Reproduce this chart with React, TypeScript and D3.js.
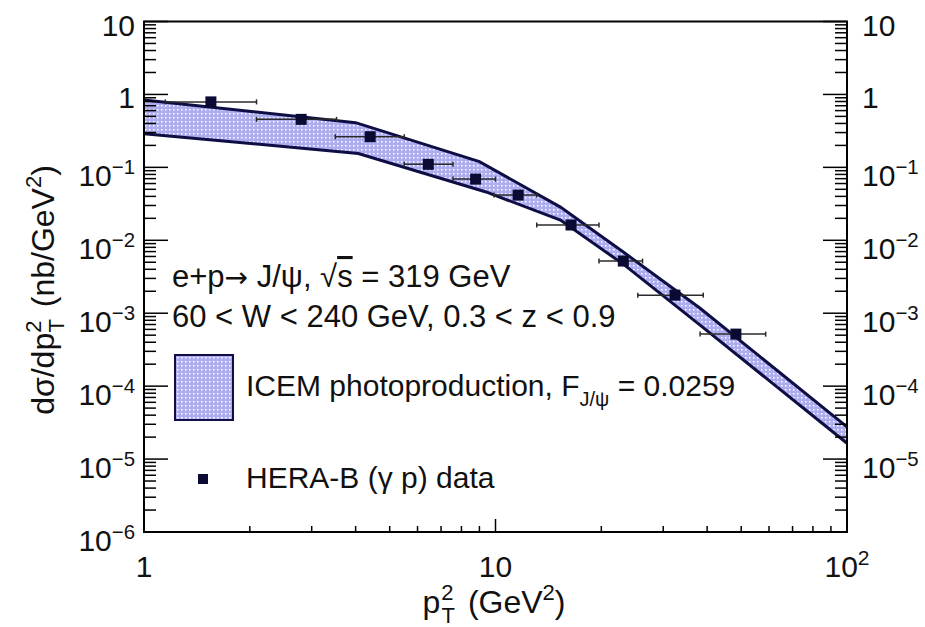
import React, { useEffect, useRef } from 'react'
import * as d3 from 'd3'

// HERA-B points: p_T^2 bin centre, bin edges, dsigma/dp_T^2 (nb/GeV^2)
const ptMid = [1.55, 2.8, 4.4, 6.44, 8.78, 11.6, 16.4, 23.1, 32.4, 48.3]
const ptLow = [1.15, 2.09, 3.5, 5.5, 7.57, 9.9, 13.1, 19.7, 25.4, 38.2]
const ptHigh = [2.09, 3.53, 5.5, 7.57, 10.0, 13.1, 19.7, 26.2, 39.0, 58.7]
const sigma = [0.79, 0.455, 0.263, 0.11, 0.069, 0.0417, 0.0162, 0.00519, 0.00177, 0.000517]

// ICEM band, upper and lower edge
const upX = [1, 4.0, 9.0, 15.3, 23.1, 38.2, 100]
const upY = [0.84, 0.41, 0.12, 0.0285, 0.0069, 0.00117, 2.77e-5]
const loX = [1, 4.07, 9.4, 15.3, 23.1, 38.2, 100]
const loY = [0.29, 0.155, 0.046, 0.0189, 0.0047, 0.000687, 1.65e-5]

const xTicks = [1, 10, 100]
const xLabels = ['1', '10', '10^2']
const yTicks = [10, 1, 0.1, 0.01, 1e-3, 1e-4, 1e-5, 1e-6]
const yLabels = ['10', '1', '10^-1', '10^-2', '10^-3', '10^-4', '10^-5', '10^-6']

const W = 925
const H = 627
const FONT = '"Liberation Sans", Arial, Helvetica, sans-serif'
const NAVY = '#0e0e44'

function powLabel (g, x, y, label, anchor, size) {
  var parts = label.split('^')
  var t = g.append('text')
    .attr('x', x)
    .attr('y', y + (parts.length > 1 ? 19 : 14))
    .attr('text-anchor', anchor)
    .attr('font-size', size)
    .text(parts[0])
  if (parts.length > 1) {
    t.append('tspan')
      .attr('dy', -12)
      .attr('font-size', size * 0.68)
      .text(parts[1].replace('-', '\u2212'))
  }
  return t
}

export default function App () {
  const ref = useRef(null)

  useEffect(() => {
    document.body.style.margin = '0'
    var svg = d3.select(ref.current)
    svg.selectAll('*').remove()

    var x = d3.scaleLog().domain([1, 100]).range([144, 847])
    var y = d3.scaleLog().domain([1e-6, 10]).range([532, 21.5])

    var defs = svg.append('defs')
    var pat = defs.append('pattern')
      .attr('id', 'dots')
      .attr('width', 4)
      .attr('height', 4)
      .attr('patternUnits', 'userSpaceOnUse')
    pat.append('rect').attr('width', 4).attr('height', 4).attr('fill', '#adadf0')
    pat.append('rect').attr('x', 1).attr('y', 1).attr('width', 1.5).attr('height', 1.5).attr('fill', '#ffffff')

    var g = svg.append('g').attr('font-family', FONT).attr('fill', '#111')

    // band
    var upper = upX.map((v, i) => [x(v), y(upY[i])])
    var lower = loX.map((v, i) => [x(v), y(loY[i])])
    var poly = upper.concat(lower.slice().reverse())
    g.append('path')
      .attr('d', 'M' + poly.map(p => p.join(',')).join('L') + 'Z')
      .attr('fill', 'url(#dots)')
      .attr('stroke', 'none')
    var line = d3.line()
    g.append('path').attr('d', line(upper)).attr('fill', 'none').attr('stroke', NAVY).attr('stroke-width', 3)
    g.append('path').attr('d', line(lower)).attr('fill', 'none').attr('stroke', NAVY).attr('stroke-width', 3)

    // data points
    var pts = g.append('g')
    ptMid.forEach((m, i) => {
      var yy = y(sigma[i])
      var x0 = x(ptLow[i])
      var x1 = x(ptHigh[i])
      pts.append('line').attr('x1', x0).attr('x2', x1).attr('y1', yy).attr('y2', yy)
        .attr('stroke', '#2a2a2a').attr('stroke-width', 1.5)
      pts.append('line').attr('x1', x0).attr('x2', x0).attr('y1', yy - 2.5).attr('y2', yy + 2.5)
        .attr('stroke', '#2a2a2a').attr('stroke-width', 1.5)
      pts.append('line').attr('x1', x1).attr('x2', x1).attr('y1', yy - 2.5).attr('y2', yy + 2.5)
        .attr('stroke', '#2a2a2a').attr('stroke-width', 1.5)
      pts.append('rect').attr('x', x(m) - 5.5).attr('y', yy - 5.5).attr('width', 11).attr('height', 11)
        .attr('fill', '#0a0a33')
    })

    // frame
    g.append('rect')
      .attr('x', 144).attr('y', 21.5)
      .attr('width', 847 - 144).attr('height', 532 - 21.5)
      .attr('fill', 'none').attr('stroke', '#000').attr('stroke-width', 2)

    // ticks
    var tk = g.append('g').attr('stroke', '#000').attr('stroke-width', 1.5)
    for (var d = 1; d < 100; d *= 10) {
      for (var k = 2; k <= 9; k++) {
        var xv = x(d * k)
        tk.append('line').attr('x1', xv).attr('x2', xv).attr('y1', 532).attr('y2', 526)
      }
    }
    tk.append('line').attr('x1', x(10)).attr('x2', x(10)).attr('y1', 532).attr('y2', 519)
    for (var e = -6; e < 1; e++) {
      var dec = Math.pow(10, e)
      for (var j = 2; j <= 9; j++) {
        var yv = y(dec * j)
        tk.append('line').attr('x1', 144).attr('x2', 156).attr('y1', yv).attr('y2', yv)
        tk.append('line').attr('x1', 847).attr('x2', 835).attr('y1', yv).attr('y2', yv)
      }
    }
    yTicks.forEach(v => {
      tk.append('line').attr('x1', 144).attr('x2', 168).attr('y1', y(v)).attr('y2', y(v))
      tk.append('line').attr('x1', 847).attr('x2', 823).attr('y1', y(v)).attr('y2', y(v))
    })

    // tick labels (the right axis stops at 10^-5)
    yTicks.forEach((v, i) => {
      powLabel(g, 135, y(v), yLabels[i], 'end', 30)
      if (v > 1e-6) powLabel(g, 862, y(v), yLabels[i], 'start', 30)
    })
    xTicks.forEach((v, i) => {
      var parts = xLabels[i].split('^')
      var t = g.append('text').attr('x', x(v)).attr('y', 577)
        .attr('text-anchor', 'middle').attr('font-size', 30).text(parts[0])
      if (parts.length > 1) {
        t.append('tspan').attr('dy', -12).attr('font-size', 21).text(parts[1])
      }
    })

    // axis titles
    var xt = g.append('text').attr('x', 494).attr('y', 613)
      .attr('text-anchor', 'middle').attr('font-size', 32)
    xt.append('tspan').text('p')
    xt.append('tspan').attr('dx', 1).attr('dy', -13).attr('font-size', 22).text('2')
    xt.append('tspan').attr('dx', -12).attr('dy', 23).attr('font-size', 22).text('T')
    xt.append('tspan').attr('dx', 4).attr('dy', -10).text(' (GeV')
    xt.append('tspan').attr('dy', -13).attr('font-size', 22).text('2')
    xt.append('tspan').attr('dy', 13).text(')')

    var yt = g.append('text')
      .attr('transform', 'translate(54,290) rotate(-90)')
      .attr('text-anchor', 'middle').attr('font-size', 32)
    yt.append('tspan').text('d\u03c3/dp')
    yt.append('tspan').attr('dy', -13).attr('font-size', 22).text('2')
    yt.append('tspan').attr('dx', -12).attr('dy', 23).attr('font-size', 22).text('T')
    yt.append('tspan').attr('dx', 3).attr('dy', -10).text(' (nb/GeV')
    yt.append('tspan').attr('dy', -13).attr('font-size', 22).text('2')
    yt.append('tspan').attr('dy', 13).text(')')

    // physics text
    var l1 = g.append('text').attr('x', 172).attr('y', 287).attr('font-size', 31)
    l1.append('tspan').text('e+p')
    l1.append('tspan').attr('font-family', '"DejaVu Sans", sans-serif').attr('font-size', 28).text('\u2192')
    l1.append('tspan').text(' J/\u03c8, \u221a')
    l1.append('tspan').style('text-decoration', 'overline').text('s')
    l1.append('tspan').text(' = 319 GeV')
    g.append('text').attr('x', 172).attr('y', 327).attr('font-size', 31)
      .text('60 < W < 240 GeV, 0.3 < z < 0.9')

    // legend
    g.append('rect').attr('x', 175).attr('y', 355).attr('width', 58).attr('height', 65)
      .attr('fill', 'url(#dots)').attr('stroke', NAVY).attr('stroke-width', 2)
    var lt = g.append('text').attr('x', 246).attr('y', 396).attr('font-size', 30)
    lt.append('tspan').text('ICEM photoproduction, F')
    lt.append('tspan').attr('dy', 10).attr('font-size', 20).text('J/\u03c8')
    lt.append('tspan').attr('dy', -10).text(' = 0.0259')

    g.append('rect').attr('x', 198).attr('y', 474).attr('width', 10).attr('height', 10).attr('fill', '#0a0a33')
    g.append('text').attr('x', 246).attr('y', 488).attr('font-size', 30).text('HERA-B (\u03b3 p) data')
  }, [])

  return (
    <svg ref={ref} width={W} height={H} style={{ display: 'block', background: '#fff' }} />
  )
}
